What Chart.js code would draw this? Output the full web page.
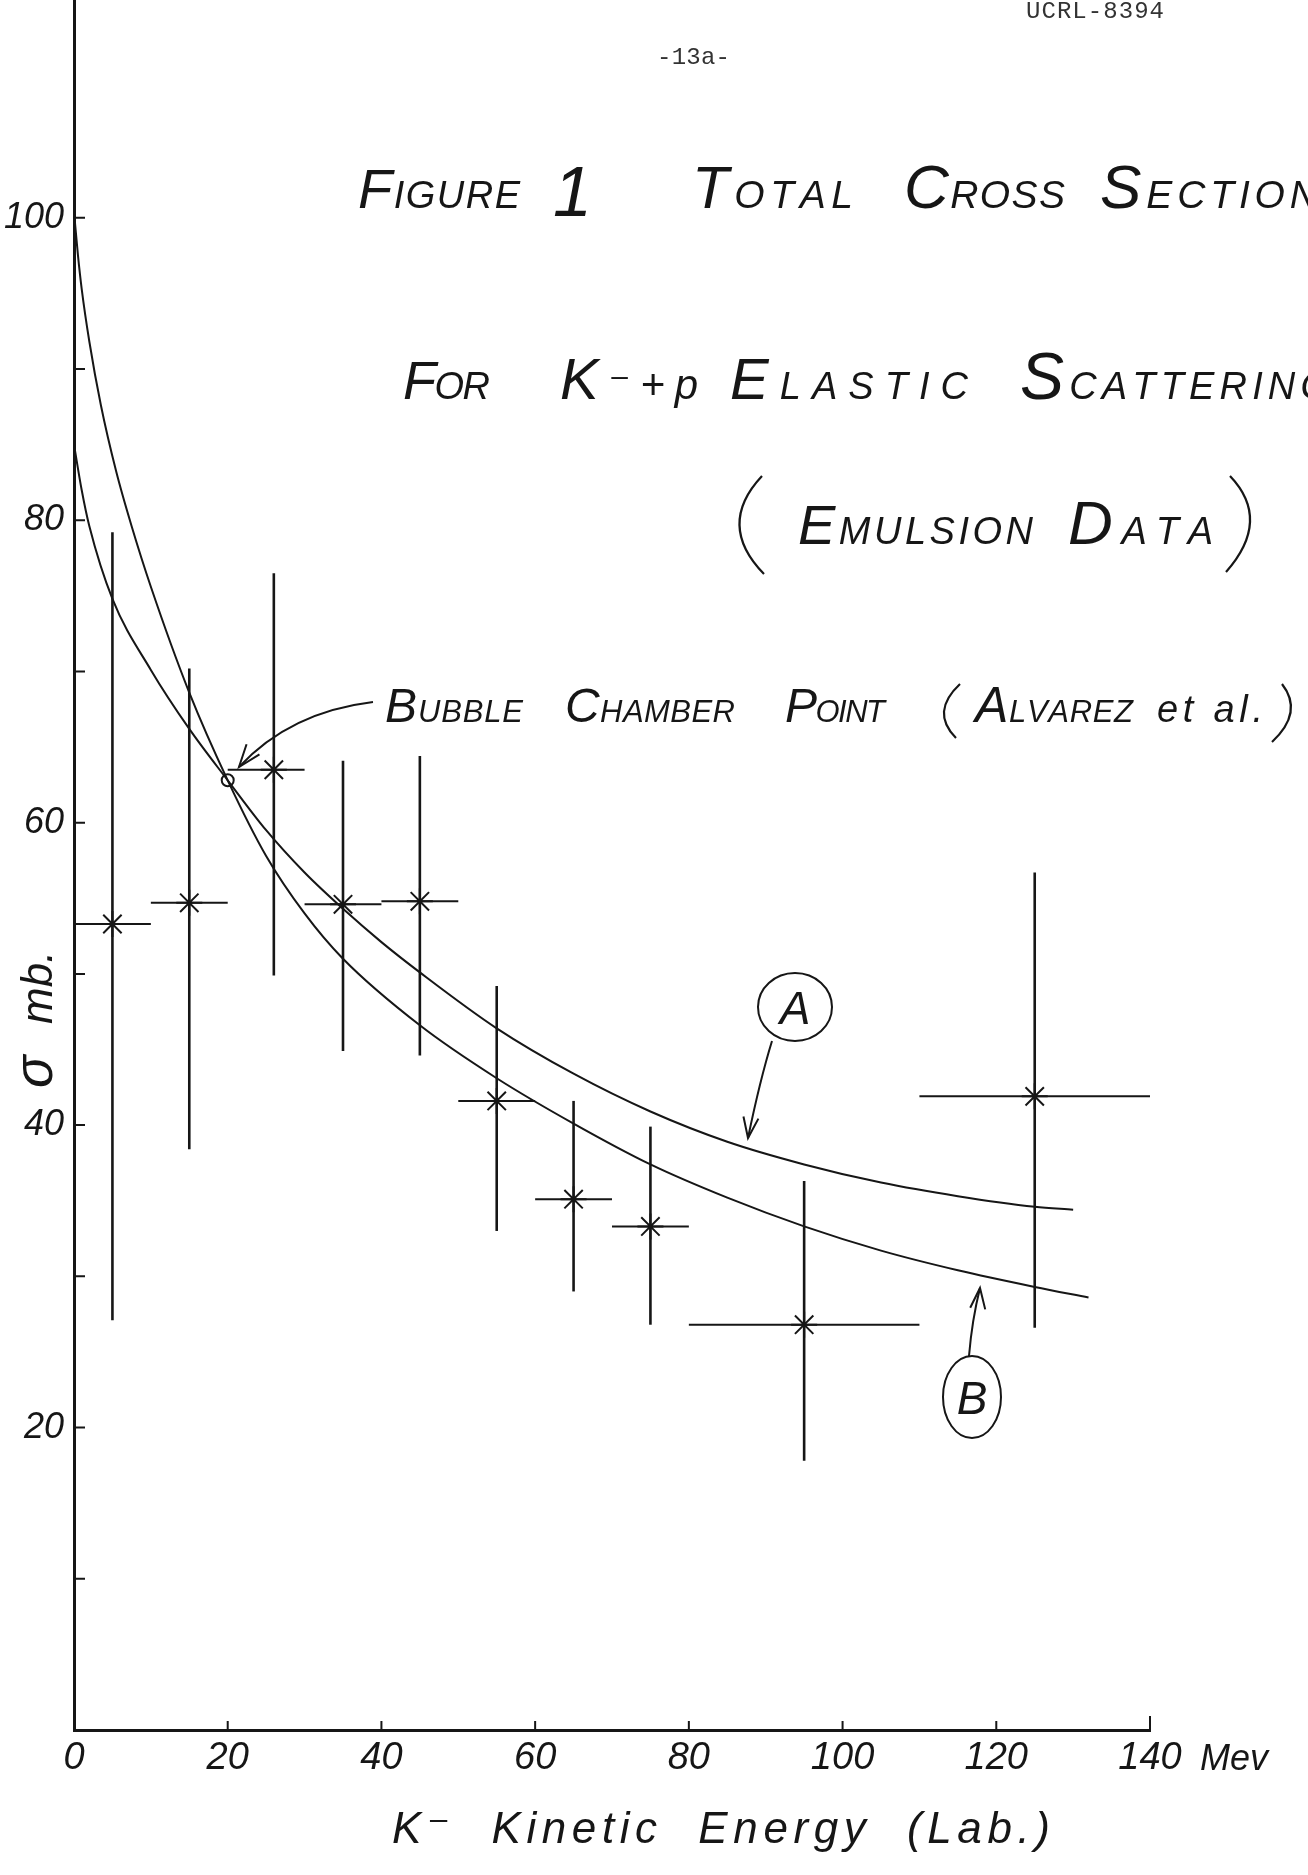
<!DOCTYPE html>
<html>
<head>
<meta charset="utf-8">
<title>Figure 1 - Total cross section for K-+p elastic scattering</title>
<script src="https://cdn.jsdelivr.net/npm/chart.js@4.4.1/dist/chart.umd.min.js"></script>
<style>
  html, body { margin: 0; padding: 0; background: #fff; }
  #wrap { width: 1308px; height: 1875px; }
</style>
</head>
<body>
<div id="wrap"><canvas id="cross-section-chart" width="1308" height="1875"></canvas></div>
<script>
// emulsion points: kinetic energy bins (MeV) and cross section (mb)
const energy = [5, 15, 26, 35, 45, 55, 65, 75, 95, 125];
const energyLow = [0, 10, 20, 30, 40, 50, 60, 70, 80, 110];
const energyHigh = [10, 20, 30, 40, 50, 60, 70, 80, 110, 140];
const sigma = [53.3, 54.7, 63.5, 54.6, 54.8, 41.6, 35.1, 33.3, 26.8, 41.9];
const sigmaLow = [27.1, 38.4, 49.9, 44.9, 44.6, 33.0, 29.0, 26.8, 17.8, 26.6];
const sigmaHigh = [79.2, 70.2, 76.5, 64.1, 64.4, 49.2, 41.6, 39.9, 36.3, 56.7];

// bubble chamber point (Alvarez et al.)
const bubbleEnergy = [20];
const bubbleSigma = [62.8];

// hand drawn curves
const curveAEnergy = [0, 1, 2, 5, 10, 15, 20, 25, 30, 35, 40, 45, 55, 65, 75, 85, 95, 105, 115, 125, 130];
const curveASigma = [85, 82, 79.6, 74.8, 70.1, 66.2, 62.8, 59.5, 56.7, 54.3, 52.1, 50.1, 46.4, 43.4, 40.9, 38.9, 37.4, 36.2, 35.3, 34.6, 34.4];
const curveBEnergy = [0, 0.5, 1, 2, 3.5, 5.5, 7.5, 10, 15, 20, 25, 30, 35, 45, 55, 65, 75, 85, 95, 105, 115, 125, 132];
const curveBSigma = [100.4, 97.6, 95.3, 91.8, 87.6, 83.2, 79.6, 75.6, 68.6, 62.8, 57.8, 54.0, 51.0, 46.6, 43.1, 40.1, 37.4, 35.2, 33.3, 31.7, 30.4, 29.3, 28.6];

// axis ticks
const xTickLabels = [0, 20, 40, 60, 80, 100, 120, 140];
const yTickLabels = [20, 40, 60, 80, 100];
const yTickMarks = [10, 20, 30, 40, 50, 60, 70, 80, 90, 100];

const ink = '#161616';
const hand = '"Liberation Sans", "DejaVu Sans", sans-serif';
const mono = '"Liberation Mono", "DejaVu Sans Mono", monospace';

function xy(xs, ys) {
    return xs.map((x, i) => ({ x: x, y: ys[i] }));
}

// first letter big, the rest small capitals, spread between x0 and x1
function capsWord(ctx, word, x0, x1, base, bigPx, smallPx) {
    const chars = [...word];
    ctx.font = `italic ${bigPx}px ${hand}`;
    const w0 = ctx.measureText(chars[0]).width;
    ctx.font = `italic ${smallPx}px ${hand}`;
    const widths = chars.slice(1).map(c => ctx.measureText(c).width);
    const total = w0 + widths.reduce((a, b) => a + b, 0);
    const gap = chars.length > 1 ? (x1 - x0 - total) / (chars.length - 1) : 0;
    ctx.font = `italic ${bigPx}px ${hand}`;
    ctx.fillText(chars[0], x0, base);
    ctx.font = `italic ${smallPx}px ${hand}`;
    let cx = x0 + w0 + gap;
    chars.slice(1).forEach((c, i) => {
        ctx.fillText(c, cx, base);
        cx += widths[i] + gap;
    });
}

// plain text stretched by letter spacing to a given width
function spreadText(ctx, text, x0, x1, base, font) {
    ctx.font = font;
    const w = ctx.measureText(text).width;
    const gap = (x1 - x0 - w) / Math.max(1, text.length - 1);
    let cx = x0;
    [...text].forEach(c => {
        ctx.fillText(c, cx, base);
        cx += ctx.measureText(c).width + gap;
    });
}

function arrowHead(ctx, tx, ty, fx, fy, len, spread) {
    const a = Math.atan2(ty - fy, tx - fx);
    ctx.beginPath();
    ctx.moveTo(tx - len * Math.cos(a - spread), ty - len * Math.sin(a - spread));
    ctx.lineTo(tx, ty);
    ctx.lineTo(tx - len * Math.cos(a + spread), ty - len * Math.sin(a + spread));
    ctx.stroke();
}

// thin hand drawn bracket
function bracket(ctx, x0, y0, cx, cy, x1, y1) {
    ctx.beginPath();
    ctx.moveTo(x0, y0);
    ctx.quadraticCurveTo(cx, cy, x1, y1);
    ctx.stroke();
}

const errorBars = {
    id: 'errorBars',
    beforeDatasetsDraw(chart) {
        const { ctx, scales: { x, y } } = chart;
        ctx.save();
        ctx.strokeStyle = ink;
        energy.forEach((e, i) => {
            ctx.lineWidth = 2.6;
            ctx.beginPath();
            ctx.moveTo(x.getPixelForValue(e), y.getPixelForValue(sigmaLow[i]));
            ctx.lineTo(x.getPixelForValue(e), y.getPixelForValue(sigmaHigh[i]));
            ctx.stroke();
            ctx.lineWidth = 2;
            ctx.beginPath();
            ctx.moveTo(x.getPixelForValue(energyLow[i]), y.getPixelForValue(sigma[i]));
            ctx.lineTo(x.getPixelForValue(energyHigh[i]), y.getPixelForValue(sigma[i]));
            ctx.stroke();
        });
        // tick marks drawn inside the axes
        ctx.lineWidth = 2;
        ctx.beginPath();
        yTickMarks.forEach(v => {
            const py = y.getPixelForValue(v);
            ctx.moveTo(x.left, py);
            ctx.lineTo(x.left + 11, py);
        });
        xTickLabels.slice(1).forEach(v => {
            const px = x.getPixelForValue(v);
            ctx.moveTo(px, y.bottom);
            ctx.lineTo(px, y.bottom - (v === 140 ? 14 : 9));
        });
        ctx.stroke();
        ctx.restore();
    }
};

const annotations = {
    id: 'annotations',
    afterDraw(chart) {
        const ctx = chart.ctx;
        ctx.save();
        ctx.fillStyle = ink;
        ctx.strokeStyle = ink;
        ctx.textAlign = 'left';
        ctx.textBaseline = 'alphabetic';

        // page header
        ctx.fillStyle = '#333';
        spreadText(ctx, 'UCRL-8394', 1026, 1164, 18, `24px ${mono}`);
        spreadText(ctx, '-13a-', 657, 730, 64, `24px ${mono}`);
        ctx.fillStyle = ink;

        // title block
        capsWord(ctx, 'FIGURE', 358, 520, 208, 56, 38);
        ctx.font = `italic 70px ${hand}`;
        ctx.fillText('1', 553, 216);
        capsWord(ctx, 'TOTAL', 692, 853, 208, 60, 39);
        capsWord(ctx, 'CROSS', 904, 1065, 208, 62, 39);
        capsWord(ctx, 'SECTION', 1100, 1318, 208, 62, 39);

        capsWord(ctx, 'FOR', 403, 490, 399, 54, 38);
        capsWord(ctx, 'K⁻+p', 560, 698, 399, 58, 42);
        capsWord(ctx, 'ELASTIC', 730, 968, 399, 58, 38);
        capsWord(ctx, 'SCATTERING', 1020, 1330, 399, 66, 38);

        ctx.lineWidth = 2.2;
        bracket(ctx, 762, 476, 716, 525, 764, 574);
        capsWord(ctx, 'EMULSION', 798, 1033, 544, 56, 38);
        capsWord(ctx, 'DATA', 1068, 1213, 544, 62, 38);
        bracket(ctx, 1230, 476, 1272, 520, 1226, 572);

        // bubble chamber note
        capsWord(ctx, 'BUBBLE', 385, 523, 722, 48, 31);
        capsWord(ctx, 'CHAMBER', 565, 735, 722, 48, 31);
        capsWord(ctx, 'POINT', 785, 885, 722, 48, 31);
        bracket(ctx, 960, 684, 930, 712, 956, 738);
        capsWord(ctx, 'ALVAREZ', 975, 1133, 722, 50, 31);
        spreadText(ctx, 'et al.', 1157, 1263, 722, `italic 38px ${hand}`);
        bracket(ctx, 1282, 684, 1304, 712, 1272, 742);

        ctx.lineWidth = 2;
        ctx.beginPath();
        ctx.moveTo(373, 702);
        ctx.quadraticCurveTo(290, 712, 239, 767);
        ctx.stroke();
        arrowHead(ctx, 239, 767, 262, 738, 24, 0.35);

        // curve labels
        ctx.lineWidth = 2;
        ctx.beginPath();
        ctx.ellipse(795, 1007, 37, 34, 0, 0, Math.PI * 2);
        ctx.stroke();
        ctx.font = `italic 46px ${hand}`;
        ctx.textAlign = 'center';
        ctx.fillText('A', 795, 1024);
        ctx.beginPath();
        ctx.moveTo(772, 1041);
        ctx.quadraticCurveTo(760, 1080, 748, 1138);
        ctx.stroke();
        arrowHead(ctx, 748, 1138, 752, 1110, 22, 0.35);

        ctx.beginPath();
        ctx.ellipse(972, 1397, 29, 41, 0, 0, Math.PI * 2);
        ctx.stroke();
        ctx.fillText('B', 972, 1414);
        ctx.beginPath();
        ctx.moveTo(969, 1356);
        ctx.quadraticCurveTo(972, 1320, 980, 1288);
        ctx.stroke();
        arrowHead(ctx, 980, 1288, 977, 1315, 22, 0.35);

        // axis titles
        ctx.textAlign = 'left';
        ctx.save();
        ctx.translate(52, 1088);
        ctx.rotate(-Math.PI / 2);
        ctx.font = `italic 54px ${hand}`;
        ctx.fillText('σ', 0, 0);
        ctx.font = `italic 44px ${hand}`;
        ctx.fillText('mb.', 64, 0);
        ctx.restore();

        spreadText(ctx, 'K⁻  Kinetic  Energy  (Lab.)', 392, 1050, 1843, `italic 44px ${hand}`);
        ctx.font = `italic 36px ${hand}`;
        ctx.fillText('Mev', 1200, 1770);
        ctx.restore();
    }
};

const crossSectionChart = new Chart(document.getElementById('cross-section-chart'), {
    type: 'scatter',
    data: {
        datasets: [
            {
                label: 'Curve A',
                type: 'line',
                data: xy(curveAEnergy, curveASigma),
                borderColor: ink,
                borderWidth: 2,
                pointRadius: 0,
                cubicInterpolationMode: 'monotone',
                fill: false
            },
            {
                label: 'Curve B',
                type: 'line',
                data: xy(curveBEnergy, curveBSigma),
                borderColor: ink,
                borderWidth: 2,
                pointRadius: 0,
                cubicInterpolationMode: 'monotone',
                fill: false
            },
            {
                label: 'Emulsion data',
                data: xy(energy, sigma),
                pointStyle: 'star',
                pointRadius: 13,
                borderColor: ink,
                borderWidth: 2
            },
            {
                label: 'Bubble chamber point',
                data: xy(bubbleEnergy, bubbleSigma),
                pointStyle: 'circle',
                pointRadius: 6,
                backgroundColor: '#fff',
                borderColor: ink,
                borderWidth: 2
            }
        ]
    },
    options: {
        responsive: false,
        animation: false,
        devicePixelRatio: 1,
        layout: { autoPadding: false, padding: { left: 0, top: 0, right: 158, bottom: 0 } },
        plugins: {
            legend: { display: false },
            tooltip: { enabled: false }
        },
        scales: {
            x: {
                type: 'linear',
                min: 0,
                max: 140,
                grid: { display: false, drawTicks: false },
                border: { display: true, color: ink, width: 3 },
                ticks: {
                    stepSize: 20,
                    padding: 6,
                    maxRotation: 0,
                    color: ink,
                    font: { family: hand, size: 38, style: 'italic' },
                    callback: function(value) {
                        return xTickLabels.includes(value) ? String(value) : '';
                    }
                },
                afterFit: function(scale) {
                    scale.height = 145;
                    scale.paddingLeft = 0;
                    scale.paddingRight = 0;
                }
            },
            y: {
                type: 'linear',
                min: 0,
                max: 114.4,
                grid: { display: false, drawTicks: false },
                border: { display: true, color: ink, width: 3 },
                ticks: {
                    stepSize: 10,
                    includeBounds: false,
                    padding: 10,
                    color: ink,
                    font: { family: hand, size: 36, style: 'italic' },
                    callback: function(value) {
                        return yTickLabels.includes(value) ? String(value) : '';
                    }
                },
                afterFit: function(scale) {
                    scale.width = 74;
                    scale.paddingTop = 0;
                    scale.paddingBottom = 0;
                }
            }
        }
    },
    plugins: [errorBars, annotations]
});
</script>
</body>
</html>
